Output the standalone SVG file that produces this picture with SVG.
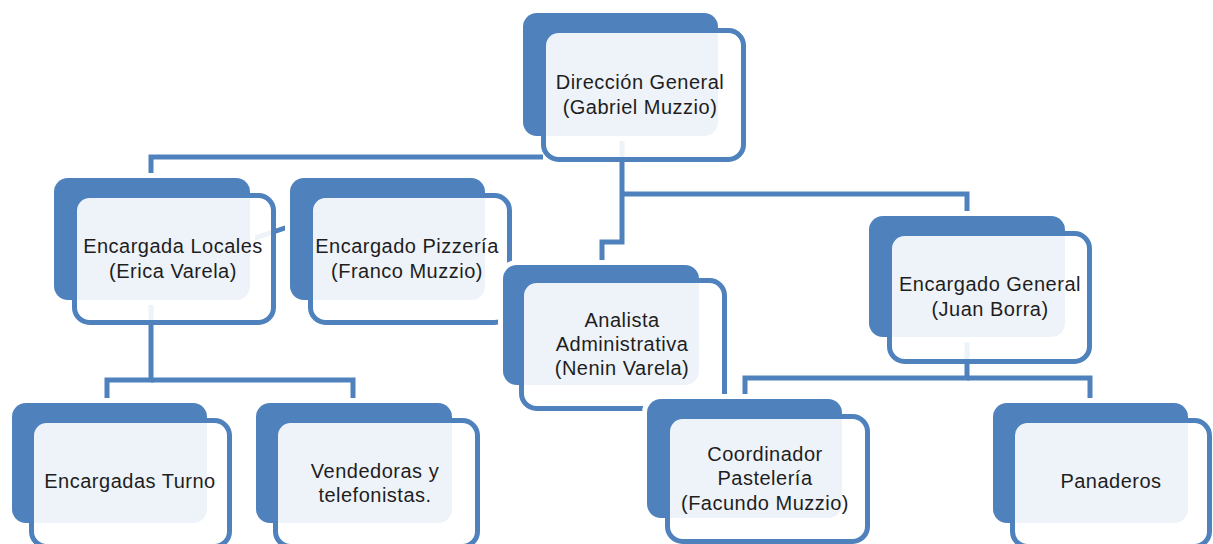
<svg xmlns="http://www.w3.org/2000/svg" width="1213" height="544" viewBox="0 0 1213 544">
<style>
.back{fill:#4F81BD;stroke:#FFFFFF;stroke-width:10;paint-order:stroke}
.front{fill:#FFFFFF;fill-opacity:0.9;stroke:#4F81BD;stroke-width:5}
.conn{fill:none;stroke:#4F81BD;stroke-width:5}
.t{font-family:"Liberation Sans",Arial,sans-serif;font-size:20px;letter-spacing:0.5px;fill:#1E1E1E;text-anchor:middle}
</style>
<rect width="1213" height="544" fill="#FFFFFF"/>
<g id="connectors">
<path class="conn" d="M543 157 H151 V180"/>
<path class="conn" d="M622 130 V242 H602 V266"/>
<path class="conn" d="M622 194 H967 V218"/>
<path class="conn" d="M151 290 V380 H107 V405"/>
<path class="conn" d="M151 380 H353 V405"/>
<path class="conn" d="M967 330 V378 H745 V401"/>
<path class="conn" d="M967 378 H1090 V405"/>
<path class="conn" d="M243 242 L294 225"/>
</g>
<g id="n-direccion">
<rect class="back" x="523" y="13" width="195" height="123" rx="14"/>
<rect class="front" x="543.5" y="30.5" width="200" height="129" rx="15"/>
<text class="t" x="640" y="89">Dirección General</text>
<text class="t" x="640" y="114">(Gabriel Muzzio)</text>
</g>
<g id="n-locales">
<rect class="back" x="54" y="178" width="196" height="122" rx="14"/>
<rect class="front" x="74.5" y="195.5" width="199" height="127" rx="15"/>
<text class="t" x="173" y="253">Encargada Locales</text>
<text class="t" x="173" y="278">(Erica Varela)</text>
</g>
<g id="n-pizzeria">
<rect class="back" x="290" y="178" width="195" height="122" rx="14"/>
<rect class="front" x="310.5" y="195.5" width="199" height="127" rx="15"/>
<text class="t" x="407" y="253">Encargado Pizzería</text>
<text class="t" x="407" y="278">(Franco Muzzio)</text>
</g>
<g id="n-analista">
<rect class="back" x="503" y="265" width="196" height="120" rx="14"/>
<rect class="front" x="521.5" y="280.5" width="203" height="128" rx="15"/>
<text class="t" x="622" y="327">Analista</text>
<text class="t" x="622" y="351">Administrativa</text>
<text class="t" x="622" y="375">(Nenin Varela)</text>
</g>
<g id="n-general">
<rect class="back" x="869" y="216" width="196" height="121" rx="14"/>
<rect class="front" x="889.5" y="233.5" width="200" height="128" rx="15"/>
<text class="t" x="990" y="291">Encargado General</text>
<text class="t" x="990" y="316">(Juan Borra)</text>
</g>
<g id="n-turno">
<rect class="back" x="12" y="403" width="195" height="120" rx="14"/>
<rect class="front" x="31.5" y="420.5" width="198" height="126" rx="15"/>
<text class="t" x="130" y="488">Encargadas Turno</text>
</g>
<g id="n-vendedoras">
<rect class="back" x="256" y="403" width="196" height="120" rx="14"/>
<rect class="front" x="275.5" y="420.5" width="202" height="126" rx="15"/>
<text class="t" x="375" y="478">Vendedoras y</text>
<text class="t" x="375" y="502">telefonistas.</text>
</g>
<g id="n-coordinador">
<rect class="back" x="647" y="399" width="195" height="119" rx="14"/>
<rect class="front" x="667.5" y="416.5" width="200" height="125" rx="15"/>
<text class="t" x="765" y="461">Coordinador</text>
<text class="t" x="765" y="485">Pastelería</text>
<text class="t" x="765" y="510">(Facundo Muzzio)</text>
</g>
<g id="n-panaderos">
<rect class="back" x="993" y="403" width="195" height="120" rx="14"/>
<rect class="front" x="1012.5" y="420.5" width="197" height="126" rx="15"/>
<text class="t" x="1111" y="488">Panaderos</text>
</g>
</svg>
